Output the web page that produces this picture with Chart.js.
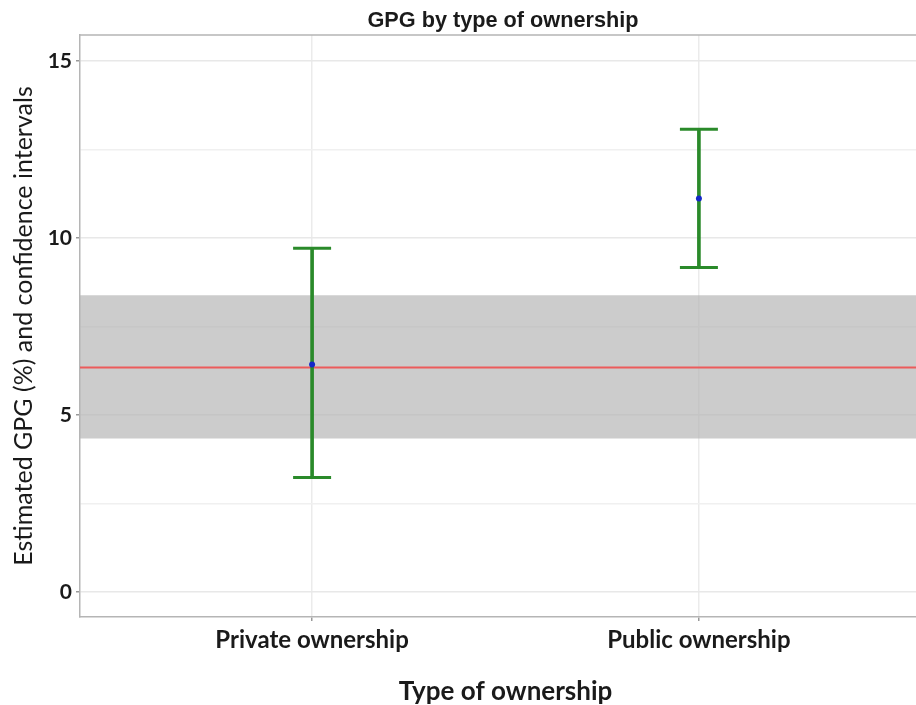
<!DOCTYPE html>
<html>
<head>
<meta charset="utf-8">
<script src="https://cdn.jsdelivr.net/npm/chart.js@4.4.0/dist/chart.umd.min.js"></script>
<style>
html, body { margin: 0; padding: 0; background: #fff; overflow: hidden; }
/* the original plot runs past the right edge of the picture, so the canvas is wider than the window */
#wrap { position: relative; width: 1006px; height: 705px; }
</style>
</head>
<body>
<div id="wrap"><canvas id="myChart"></canvas></div>
<script>
var categories = ['Private ownership', 'Public ownership'];
var estimate = [6.42, 11.11];
var lower = [3.23, 9.16];
var upper = [9.71, 13.07];

var overallGpg = 6.34;
var overallLower = 4.33;
var overallUpper = 8.38;

var yTicks = [0, 2.5, 5, 7.5, 10, 12.5, 15];

var green = '#2a8a2a';

var points = [];
var caps = [];
var bars = [];
categories.forEach(function(c, i){
    points.push({x: i + 1, y: estimate[i]});
    caps.push({x: i + 1, y: lower[i]});
    caps.push({x: i + 1, y: upper[i]});
    bars.push({x: i + 1, y: [lower[i], upper[i]]});
});

var frameTop = {
    id: 'frameTop',
    beforeDatasetsDraw: function(chart){
        var a = chart.chartArea, c = chart.ctx;
        c.save();
        c.strokeStyle = '#b5b5b5';
        c.lineWidth = 1.5;
        c.beginPath();
        c.moveTo(a.left, a.top);
        c.lineTo(a.right, a.top);
        c.stroke();
        c.restore();
    }
};

var ctx = document.getElementById('myChart').getContext('2d');

var chart = new Chart(ctx, {
    type: 'scatter',
    data: {
        datasets: [
            {
                type: 'scatter',
                data: points,
                pointRadius: 3,
                pointBackgroundColor: '#1428c8',
                pointBorderWidth: 0,
                order: 0
            },
            {
                type: 'scatter',
                data: caps,
                pointStyle: 'line',
                pointRadius: 19,
                pointBorderColor: green,
                pointBorderWidth: 3,
                order: 1
            },
            {
                type: 'bar',
                data: bars,
                barThickness: 3,
                backgroundColor: green,
                borderWidth: 0,
                order: 2
            },
            {
                type: 'line',
                data: [{x: 0.4, y: overallGpg}, {x: 2.6, y: overallGpg}],
                borderColor: '#ec5b5b',
                borderWidth: 2,
                pointRadius: 0,
                order: 3
            },
            {
                type: 'line',
                data: [{x: 0.4, y: overallUpper}, {x: 2.6, y: overallUpper}],
                borderWidth: 0,
                pointRadius: 0,
                fill: false,
                order: 5
            },
            {
                type: 'line',
                data: [{x: 0.4, y: overallLower}, {x: 2.6, y: overallLower}],
                borderWidth: 0,
                pointRadius: 0,
                fill: '-1',
                backgroundColor: 'rgba(180,180,180,0.68)',
                order: 4
            }
        ]
    },
    options: {
        responsive: true,
        maintainAspectRatio: false,
        animation: false,
        layout: { padding: 0 },
        plugins: {
            legend: { display: false },
            tooltip: { enabled: false },
            title: {
                display: true,
                text: 'GPG by type of ownership',
                font: { family: 'Liberation Sans', size: 21.7, weight: 'bold' },
                color: '#1a1a1a',
                padding: { top: 8, bottom: 1 }
            }
        },
        scales: {
            x: {
                type: 'linear',
                min: 0.4,
                max: 2.6,
                offset: false,
                afterBuildTicks: function(s){
                    s.ticks = categories.map(function(c, i){ return {value: i + 1}; });
                },
                afterFit: function(s){ s.height = 88; },
                ticks: {
                    callback: function(v){ return categories[v - 1] || ''; },
                    font: { family: 'Lato', size: 24, weight: 'bold' },
                    color: '#1a1a1a',
                    padding: 5,
                    maxRotation: 0,
                    autoSkip: false
                },
                grid: { offset: false, color: '#ebebeb', lineWidth: 1.5, tickLength: 4, tickColor: '#999' },
                border: { color: '#b5b5b5', width: 1.5 },
                title: {
                    display: true,
                    text: 'Type of ownership',
                    font: { family: 'Lato', size: 26, weight: 'bold' },
                    color: '#1a1a1a',
                    padding: { top: 0, bottom: -2 }
                }
            },
            y: {
                min: -0.71,
                max: 15.73,
                afterBuildTicks: function(s){
                    s.ticks = yTicks.map(function(v){ return {value: v}; });
                },
                afterFit: function(s){ s.width = 80; },
                ticks: {
                    callback: function(v){ return v % 5 === 0 ? v : ''; },
                    font: { family: 'Lato', size: 21, weight: 'bold' },
                    color: '#1a1a1a',
                    padding: 4
                },
                grid: {
                    color: function(c){ return c.tick && c.tick.value % 5 === 0 ? '#e8e8e8' : '#f0f0f0'; },
                    lineWidth: 1.5,
                    tickLength: 4,
                    tickColor: function(c){ return c.tick && c.tick.value % 5 === 0 ? '#999' : 'rgba(0,0,0,0)'; }
                },
                border: { color: '#b5b5b5', width: 1.5 },
                title: {
                    display: true,
                    text: 'Estimated GPG (%) and confidence intervals',
                    font: { family: 'Lato', size: 25 },
                    color: '#1a1a1a',
                    padding: { top: 9, bottom: 0 }
                }
            },
            // empty spacer on the right, where the cropped part of the plot would continue
            spacer: {
                type: 'linear',
                position: 'right',
                display: true,
                afterFit: function(s){ s.width = 75; },
                ticks: { display: false },
                grid: { display: false },
                border: { display: false }
            }
        }
    },
    plugins: [frameTop]
});
</script>
</body>
</html>
